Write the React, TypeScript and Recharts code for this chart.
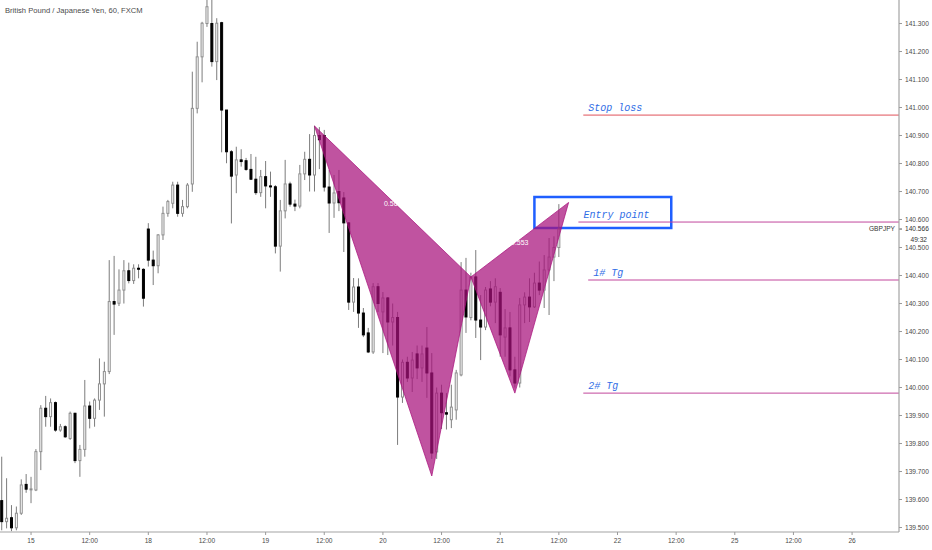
import React from "react";
import {
  Bar,
  ComposedChart,
  ReferenceArea,
  ReferenceDot,
  ReferenceLine,
  Scatter,
  XAxis,
  YAxis,
} from "recharts";

// GBPJPY, 60 min, FXCM. bar 0 = Nov 14 18:00
const OPEN = [
  139.596, 139.521, 139.535, 139.499, 139.551, 139.654, 139.637, 139.634, 139.771, 139.926,
  139.896, 139.946, 139.848, 139.86, 139.818, 139.908, 139.739, 139.779, 139.934, 139.89,
  139.955, 140.013, 140.057, 140.307, 140.301, 140.348, 140.417, 140.382, 140.426, 140.422,
  140.566, 140.455, 140.435, 140.545, 140.622, 140.658, 140.723, 140.622, 140.646, 140.727,
  140.997, 141.181, 141.3, 141.3, 141.164, 141.303, 140.991, 140.842, 140.759, 140.813,
  140.81, 140.779, 140.744, 140.696, 140.753, 140.72, 140.717, 140.505, 140.631, 140.727,
  140.655, 140.648, 140.763, 140.815, 140.759, 140.9, 140.9, 140.716, 140.659, 140.7,
  140.677, 140.588, 140.305, 140.359, 140.266, 140.195, 140.127, 140.36, 140.27, 140.32,
  140.234, 140.25, 139.966, 140.09, 140.034, 140.12, 140.07, 140.141, 140.052, 139.77,
  139.98, 139.91, 139.885, 139.92, 140.045, 140.348, 140.25, 140.395, 140.241, 140.216,
  140.352, 140.305, 140.34, 140.18, 140.213, 140.063, 140.016, 140.295, 140.323, 140.288,
  140.373, 140.348, 140.42, 140.466, 140.5,
];
const HIGH = [
  139.753, 139.676, 139.58, 139.575, 139.672, 139.691, 139.681, 139.78, 139.937, 139.97,
  139.961, 139.95, 139.87, 139.865, 139.914, 139.91, 139.795, 140.027, 139.95, 139.961,
  140.104, 140.092, 140.455, 140.47, 140.422, 140.455, 140.446, 140.44, 140.44, 140.426,
  140.587, 140.489, 140.548, 140.646, 140.67, 140.735, 140.735, 140.67, 140.73, 141.128,
  141.235, 141.306, 141.45, 141.42, 141.319, 141.306, 140.991, 140.848, 140.86, 140.851,
  140.82, 140.834, 140.824, 140.777, 140.809, 140.771, 140.723, 140.67, 140.813, 140.735,
  140.671, 140.795, 140.842, 140.905, 140.935, 140.93, 140.92, 140.777, 140.759, 140.777,
  140.698, 140.59, 140.391, 140.39, 140.284, 140.213, 140.373, 140.373, 140.341, 140.323,
  140.3, 140.27, 140.1, 140.11, 140.127, 140.15, 140.15, 140.216, 140.123, 140.0,
  140.01, 139.98, 140.01, 140.063, 140.448, 140.463, 140.41, 140.491, 140.33, 140.359,
  140.38, 140.39, 140.355, 140.28, 140.27, 140.11, 140.32, 140.34, 140.39, 140.41,
  140.45, 140.473, 140.534, 140.54, 140.655,
];
const LOW = [
  139.49, 139.497, 139.487, 139.49, 139.545, 139.624, 139.587, 139.63, 139.705, 139.86,
  139.86, 139.842, 139.842, 139.82, 139.813, 139.73, 139.681, 139.753, 139.854, 139.86,
  139.92, 139.896, 140.048, 140.188, 140.291, 140.3, 140.372, 140.37, 140.39, 140.289,
  140.432, 140.366, 140.408, 140.527, 140.61, 140.64, 140.61, 140.61, 140.64, 140.699,
  140.979, 141.09, 141.288, 141.146, 141.098, 140.84, 140.801, 140.586, 140.694, 140.789,
  140.774, 140.741, 140.688, 140.681, 140.64, 140.681, 140.479, 140.414, 140.604, 140.646,
  140.63, 140.64, 140.741, 140.7, 140.7, 140.78, 140.7, 140.552, 140.606, 140.63,
  140.484, 140.277, 140.27, 140.213, 140.18, 140.123, 140.12, 140.27, 140.123, 140.116,
  140.15, 139.795, 139.945, 140.02, 139.984, 140.03, 140.02, 139.963, 139.745, 139.745,
  139.852, 139.85, 139.855, 139.885, 140.04, 140.195, 140.24, 140.177, 140.098, 140.205,
  140.29, 140.23, 140.11, 140.11, 140.04, 140.0, 140.0, 140.23, 140.234, 140.284,
  140.33, 140.284, 140.259, 140.38, 140.466,
];
const CLOSE = [
  139.521, 139.533, 139.499, 139.551, 139.652, 139.637, 139.638, 139.771, 139.926, 139.896,
  139.946, 139.848, 139.86, 139.824, 139.908, 139.739, 139.779, 139.934, 139.89, 139.955,
  140.013, 140.057, 140.307, 140.298, 140.348, 140.417, 140.382, 140.426, 140.423, 140.319,
  140.455, 140.435, 140.545, 140.622, 140.664, 140.723, 140.622, 140.646, 140.723, 140.997,
  141.181, 141.301, 141.36, 141.164, 141.301, 140.991, 140.842, 140.755, 140.813, 140.807,
  140.779, 140.744, 140.696, 140.753, 140.72, 140.718, 140.505, 140.631, 140.727, 140.655,
  140.648, 140.763, 140.815, 140.759, 140.9, 140.885, 140.716, 140.659, 140.695, 140.66,
  140.588, 140.305, 140.359, 140.266, 140.188, 140.127, 140.36, 140.3, 140.32, 140.234,
  140.25, 139.966, 140.09, 140.034, 140.098, 140.07, 140.12, 140.052, 139.766, 139.98,
  139.91, 139.905, 139.93, 140.052, 140.348, 140.252, 140.395, 140.241, 140.216, 140.348,
  140.305, 140.36, 140.188, 140.213, 140.063, 140.016, 140.295, 140.323, 140.288, 140.373,
  140.348, 140.42, 140.466, 140.5, 140.566,
];

// x axis: one tick every 12 bars
const DAY_TICKS = [6, 18, 30, 42, 54, 66, 78, 90, 102, 114, 126, 138, 150, 162, 174];
const DAY_LABELS = ["15", "12:00", "18", "12:00", "19", "12:00", "20", "12:00", "21", "12:00", "22", "12:00", "25", "12:00", "26"];
const PRICE_TICKS = [
  139.5, 139.6, 139.7, 139.8, 139.9, 140.0, 140.1, 140.2, 140.3, 140.4,
  140.5, 140.6, 140.7, 140.8, 140.9, 141.0, 141.1, 141.2, 141.3,
];

// XABCD pattern
const PAT_BARS = [64, 88, 96, 105, 116];
const PAT_PRICES = [140.934, 139.684, 140.395, 139.98, 140.661];
const PAT_RATIOS = ["0.569", "0.553"];

// horizontal rays
const LEVEL_NAMES = ["Stop loss", "Entry point", "1# Tg", "2# Tg"];
const LEVEL_PRICES = [140.973, 140.591, 140.384, 139.98];
const LEVEL_START = [119, 118, 120, 119];

const BOX_BARS = [109, 137];
const BOX_PRICES = [140.57, 140.68];

const SYMBOL = "GBPJPY";
const LAST_PRICE = 140.566;
const COUNTDOWN = "49:32";
const TITLE = "British Pound / Japanese Yen, 60, FXCM";

const X_DOMAIN: [number, number] = [-0.35, 183.6];
const Y_DOMAIN: [number, number] = [139.484, 141.384];

const candles = OPEN.map((o, i) => ({ t: i, o, h: HIGH[i], l: LOW[i], c: CLOSE[i] }));
const pt = (k: number) => ({ t: PAT_BARS[k], p: PAT_PRICES[k] });
const triXAB = [pt(0), pt(1), pt(2)];
const triBCD = [pt(2), pt(3), pt(4)];

const PURPLE = "#a8107c";
const AXIS_TEXT = "#4a4a4a";
const FONT = "'Liberation Sans', Arial, sans-serif";
const LEVEL_COLORS = ["#e0525a", "#c2479c", "#c2479c", "#c2479c"];

function Candle(props: any) {
  const { x, y, width, height, payload } = props;
  const top = Math.min(y, y + height);
  const span = Math.abs(height);
  const { o, h, l, c } = payload;
  const k = span / (h - l || 1);
  const yo = top + (h - o) * k;
  const yc = top + (h - c) * k;
  const cx = x + width / 2;
  const up = c >= o;
  const bt = Math.min(yo, yc);
  const bh = Math.max(Math.abs(yo - yc), 1);
  return (
    <g>
      <line x1={cx} x2={cx} y1={top} y2={top + span} stroke="#7c7c7c" strokeWidth={1} />
      <rect
        x={x + 0.5}
        y={bt}
        width={Math.max(width - 1, 1)}
        height={bh}
        fill={up ? "#ffffff" : "#000000"}
        stroke={up ? "#8e8e8e" : "#000000"}
        strokeWidth={1}
      />
    </g>
  );
}

function Triangle(props: any) {
  const pts = props.points || [];
  if (pts.length < 3) return <g />;
  return (
    <polygon
      points={pts.map((p: any) => `${p.x},${p.y}`).join(" ")}
      fill={PURPLE}
      fillOpacity={0.72}
      stroke={PURPLE}
      strokeOpacity={0.72}
      strokeWidth={1}
    />
  );
}

function levelLabel(name: string) {
  return (p: any) => {
    const vb = p.viewBox || {};
    return (
      <text
        x={vb.x + 5}
        y={vb.y - 4}
        fill="#2f6de6"
        fontSize={10}
        fontStyle="italic"
        fontFamily="'Liberation Mono', 'Courier New', monospace"
      >
        {name}
      </text>
    );
  };
}

function ratioLabel(txt: string) {
  return (p: any) => {
    const vb = p.viewBox || {};
    const cx = vb.x + (vb.width || 0) / 2;
    const cy = vb.y + (vb.height || 0) / 2;
    return (
      <text x={cx} y={cy + 5} textAnchor="middle" fill="#ffffff" fontSize={7} fontFamily={FONT}>
        {txt}
      </text>
    );
  };
}

function lastPriceLabel(p: any) {
  const vb = p.viewBox || {};
  const right = vb.x + vb.width;
  const y = vb.y;
  return (
    <g fontFamily={FONT} fontSize={6.6} fill="#333">
      <text x={right - 4} y={y} dy="0.35em" textAnchor="end">
        {SYMBOL}
      </text>
      <line x1={right} x2={right + 3} y1={y} y2={y} stroke="#555" />
      <text x={right + 6} y={y} dy="0.35em">
        {LAST_PRICE.toFixed(3)}
      </text>
      <rect x={right + 4} y={y + 5} width={30} height={10} fill="#ffffff" />
      <text x={right + 28} y={y + 10.5} dy="0.35em" textAnchor="end">
        {COUNTDOWN}
      </text>
    </g>
  );
}

export default function App() {
  return (
    <div style={{ position: "absolute", left: 0, top: 0, width: 932, height: 550, background: "#fff" }}>
      <ComposedChart
        width={932}
        height={550}
        data={candles}
        margin={{ top: 0, right: 0, bottom: 0, left: 0 }}
        barCategoryGap={0.94}
      >
        <XAxis
          dataKey="t"
          type="number"
          domain={X_DOMAIN}
          allowDataOverflow
          ticks={DAY_TICKS}
          interval={0}
          tickFormatter={(v: number) => DAY_LABELS[DAY_TICKS.indexOf(v)] ?? ""}
          height={18}
          tickSize={3}
          tickMargin={3}
          axisLine={{ stroke: "#a3a3a3", strokeWidth: 1.2 }}
          tickLine={{ stroke: "#9a9a9a" }}
          tick={{ fill: AXIS_TEXT, fontSize: 6.6, fontFamily: FONT }}
        />
        <XAxis xAxisId="pat" dataKey="t" type="number" domain={X_DOMAIN} allowDataOverflow hide />
        <YAxis
          orientation="right"
          type="number"
          domain={Y_DOMAIN}
          allowDataOverflow
          ticks={PRICE_TICKS}
          interval={0}
          tickFormatter={(v: number) => v.toFixed(3)}
          width={33}
          tickSize={3}
          tickMargin={3}
          axisLine={{ stroke: "#a3a3a3", strokeWidth: 1.2 }}
          tickLine={{ stroke: "#9a9a9a" }}
          tick={{ fill: AXIS_TEXT, fontSize: 6.6, fontFamily: FONT }}
        />
        <Bar dataKey={(d: any) => [d.l, d.h]} shape={<Candle />} isAnimationActive={false} />
        <Scatter
          xAxisId="pat"
          data={triXAB}
          dataKey="p"
          line={Triangle}
          lineType="joint"
          shape={() => <g />}
          isAnimationActive={false}
        />
        <Scatter
          xAxisId="pat"
          data={triBCD}
          dataKey="p"
          line={Triangle}
          lineType="joint"
          shape={() => <g />}
          isAnimationActive={false}
        />
        <ReferenceDot
          x={(PAT_BARS[0] + PAT_BARS[2]) / 2}
          y={(PAT_PRICES[0] + PAT_PRICES[2]) / 2}
          r={0}
          stroke="none"
          fill="none"
          label={ratioLabel(PAT_RATIOS[0])}
        />
        <ReferenceDot
          x={(PAT_BARS[2] + PAT_BARS[4]) / 2}
          y={(PAT_PRICES[2] + PAT_PRICES[4]) / 2}
          r={0}
          stroke="none"
          fill="none"
          label={ratioLabel(PAT_RATIOS[1])}
        />
        {LEVEL_NAMES.map((name, i) => (
          <ReferenceLine
            key={name}
            segment={[
              { x: LEVEL_START[i], y: LEVEL_PRICES[i] },
              { x: X_DOMAIN[1], y: LEVEL_PRICES[i] },
            ]}
            stroke={LEVEL_COLORS[i]}
            strokeWidth={1}
            ifOverflow="visible"
            label={levelLabel(name)}
          />
        ))}
        <ReferenceArea
          x1={BOX_BARS[0]}
          x2={BOX_BARS[1]}
          y1={BOX_PRICES[0]}
          y2={BOX_PRICES[1]}
          fill="none"
          fillOpacity={0}
          stroke="#1f5fff"
          strokeWidth={2.5}
          strokeOpacity={1}
        />
        <ReferenceLine y={LAST_PRICE} stroke="none" strokeOpacity={0} label={lastPriceLabel} />
      </ComposedChart>
      <div
        style={{
          position: "absolute",
          left: 5,
          top: 6,
          fontFamily: FONT,
          fontSize: 7.6,
          color: "#4a4a4a",
          whiteSpace: "nowrap",
        }}
      >
        {TITLE}
      </div>
    </div>
  );
}
